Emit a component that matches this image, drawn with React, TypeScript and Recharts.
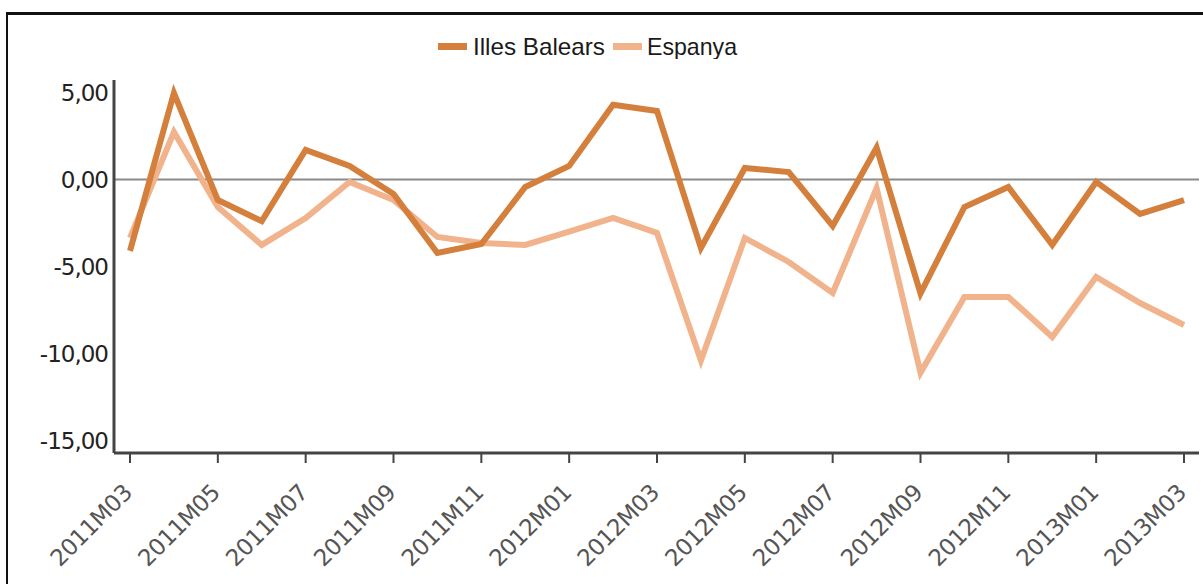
import React from "react";
import {
  LineChart,
  Line,
  XAxis,
  YAxis,
  ReferenceLine,
} from "recharts";

const months = [
  "2011M03", "2011M04", "2011M05", "2011M06", "2011M07", "2011M08", "2011M09",
  "2011M10", "2011M11", "2011M12", "2012M01", "2012M02", "2012M03", "2012M04",
  "2012M05", "2012M06", "2012M07", "2012M08", "2012M09", "2012M10", "2012M11",
  "2012M12", "2013M01", "2013M02", "2013M03",
];

const illesBalears = [
  -4.1, 4.97, -1.18, -2.39, 1.7, 0.78, -0.83, -4.22, -3.71, -0.43, 0.78, 4.3,
  3.94, -3.94, 0.66, 0.43, -2.67, 1.83, -6.55, -1.58, -0.43, -3.76, -0.14,
  -1.98, -1.18,
];

const espanya = [
  -3.36, 2.73, -1.58, -3.76, -2.21, -0.14, -1.18, -3.3, -3.65, -3.76, -3.0,
  -2.21, -3.07, -10.4, -3.36, -4.74, -6.52, -0.5, -11.1, -6.75, -6.75, -9.05,
  -5.6, -7.1, -8.36,
];

const yTicks = [-15, -10, -5, 0, 5];
const xTicks = months.filter((_, i) => i % 2 === 0);

const data = months.map((m, i) => ({
  month: m,
  illes: illesBalears[i],
  espanya: espanya[i],
}));

const DARK = "#d4803c";
const LIGHT = "#f1b38c";

const fmt = (v: number) => v.toFixed(2).replace(".", ",");

function XTick(props: any) {
  const { x, y, payload } = props;
  return (
    <g transform={`translate(${x},${y})`}>
      <text
        x={0}
        y={0}
        dx={-18}
        dy={23}
        textAnchor="end"
        transform="rotate(-45)"
        fill="#555"
        fontSize={23}
        fontFamily="DejaVu Sans, sans-serif"
        letterSpacing={-0.5}
      >
        {payload.value}
      </text>
    </g>
  );
}

function LegendBox() {
  return (
    <svg width={310} height={30} style={{ display: "block" }}>
      <rect x={0} y={14} width={29} height={7} fill={DARK} />
      <text
        x={35}
        y={26}
        fontSize={24}
        fontFamily="Liberation Sans, sans-serif"
        fill="#1a1a1a"
        textLength={132}
        lengthAdjust="spacingAndGlyphs"
      >
        Illes Balears
      </text>
      <rect x={175} y={14} width={29} height={7} fill={LIGHT} />
      <text
        x={209}
        y={26}
        fontSize={24}
        fontFamily="Liberation Sans, sans-serif"
        fill="#1a1a1a"
        textLength={90}
        lengthAdjust="spacingAndGlyphs"
      >
        Espanya
      </text>
    </svg>
  );
}

export default function App() {
  return (
    <div
      style={{
        position: "absolute",
        left: 0,
        top: 0,
        width: 1203,
        height: 584,
        background: "#fff",
        overflow: "hidden",
      }}
    >
      <div
        style={{
          position: "absolute",
          left: 6,
          top: 12,
          width: 1197,
          height: 572,
          borderTop: "3px solid #111",
          borderLeft: "2px solid #111",
          boxSizing: "border-box",
        }}
      />
      <div style={{ position: "absolute", left: 438, top: 29 }}>
        <LegendBox />
      </div>
      <LineChart
        width={1203}
        height={584}
        data={data}
        margin={{ top: 80, right: 4, bottom: 0, left: 0 }}
      >
        <XAxis
          dataKey="month"
          ticks={xTicks}
          interval={0}
          tick={<XTick />}
          height={131}
          padding={{ left: 16, right: 15 }}
          axisLine={{ stroke: "#444", strokeWidth: 3 }}
          tickLine={{ stroke: "#444", strokeWidth: 2 }}
          tickSize={10}
        />
        <YAxis
          width={114}
          domain={[-15.72, 5.72]}
          ticks={yTicks}
          allowDataOverflow
          tickFormatter={fmt}
          tickLine={false}
          tickMargin={0}
          axisLine={{ stroke: "#444", strokeWidth: 3 }}
          tick={{ fill: "#222", fontSize: 23, fontFamily: "DejaVu Sans, sans-serif", letterSpacing: -1 }}
        />
        <ReferenceLine y={0} stroke="#8a8a8a" strokeWidth={2} />
        <Line
          dataKey="espanya"
          stroke={LIGHT}
          strokeWidth={6}
          dot={false}
          strokeLinejoin="miter"
          isAnimationActive={false}
        />
        <Line
          dataKey="illes"
          stroke={DARK}
          strokeWidth={6}
          dot={false}
          strokeLinejoin="miter"
          isAnimationActive={false}
        />
      </LineChart>
    </div>
  );
}
